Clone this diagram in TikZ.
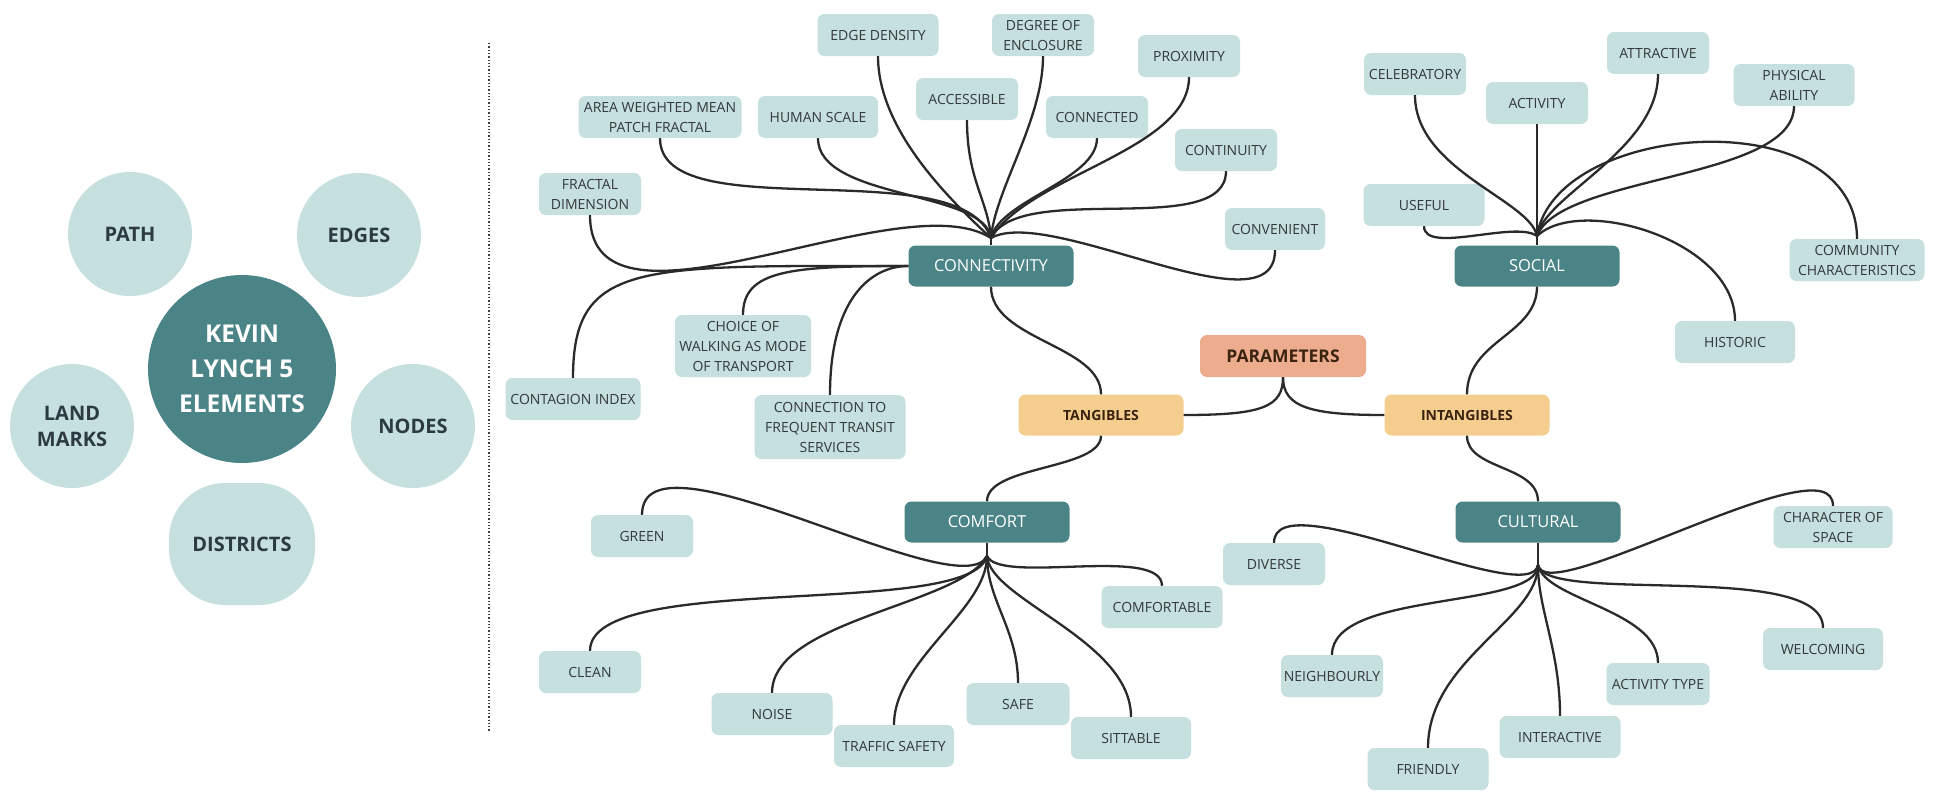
\documentclass[tikz,border=0pt]{standalone}
\usepackage{fontspec}
\setmainfont{Open Sans}
\definecolor{lteal}{HTML}{C6DFDF}
\definecolor{dteal}{HTML}{4A8487}
\definecolor{salmon}{HTML}{EEAC8F}
\definecolor{tanc}{HTML}{F4CD8F}
\definecolor{ltext}{HTML}{33393D}
\definecolor{ctext}{HTML}{2C3A42}
\definecolor{btext}{HTML}{3A2410}
\definecolor{linec}{HTML}{2A2A2A}
\tikzset{
  leaf/.style={fill=lteal, rounded corners=7pt, minimum width=#1, minimum height=42, inner sep=1pt, align=center, text=ltext, font=\fontsize{14}{20}\selectfont},
  leaf/.default=102,
  hubbox/.style={fill=dteal, rounded corners=7pt, minimum width=165, minimum height=41, inner sep=1pt, text=white, font=\fontsize{16.5}{20}\selectfont},
  catbox/.style={fill=tanc, rounded corners=7pt, minimum width=165, minimum height=41, inner sep=1pt, text=btext, font=\bfseries\fontsize{14}{16}\selectfont},
  parbox/.style={fill=salmon, rounded corners=7pt, minimum width=166, minimum height=42, inner sep=1pt, text=btext, font=\bfseries\fontsize{17.5}{20}\selectfont},
  elem/.style={circle, fill=lteal, minimum size=124, inner sep=0pt, align=center, text=ctext, font=\bfseries\fontsize{20}{26}\selectfont},
  link/.style={draw=linec, line width=2.3pt},
}
\begin{document}
\begin{tikzpicture}[x=1pt,y=-1pt]
\useasboundingbox (0,0) rectangle (1936,806);

% ---------- left: Kevin Lynch elements ----------
\node[elem] (path) at (130,234) {PATH};
\node[elem] (edges) at (359,235) {EDGES};
\node[elem] (land) at (72,426) {LAND\\MARKS};
\node[elem] (nodesc) at (413,426) {NODES};
\node[elem, circle=false, rectangle, rounded corners=56pt, minimum width=146, minimum height=122] (districts) at (242,544) {DISTRICTS};
\node[circle, fill=dteal, minimum size=188, inner sep=0pt, align=center, text=white, font=\bfseries\fontsize{24.5}{35}\selectfont] (kevin) at (242,369) {KEVIN\\LYNCH 5\\ELEMENTS};

% separator
\coordinate (septop) at (489,43);
\coordinate (sepbot) at (489,731);
\draw[dotted, line width=1.3pt, draw=black!75] (septop) -- (sepbot);

% ---------- central nodes ----------
\node[parbox] (parameters) at (1283,356) {PARAMETERS};
\node[catbox] (tangibles) at (1101,415) {TANGIBLES};
\node[catbox] (intangibles) at (1467,415) {INTANGIBLES};
\node[hubbox] (connectivity) at (991,266) {CONNECTIVITY};
\node[hubbox] (social) at (1537,266) {SOCIAL};
\node[hubbox] (comfort) at (987,522) {COMFORT};
\node[hubbox] (cultural) at (1538,522) {CULTURAL};

% ---------- connectivity leaves ----------
\node[leaf] (fractal) at (590,194) {FRACTAL\\DIMENSION};
\node[leaf=163] (area) at (660,117) {AREA WEIGHTED MEAN\\PATCH FRACTAL};
\node[leaf=120] (human) at (818,117) {HUMAN SCALE};
\node[leaf=121] (edge) at (878,35) {EDGE DENSITY};
\node[leaf] (access) at (967,99) {ACCESSIBLE};
\node[leaf] (degree) at (1043,35) {DEGREE OF\\ENCLOSURE};
\node[leaf] (connected) at (1097,117) {CONNECTED};
\node[leaf] (proximity) at (1189,56) {PROXIMITY};
\node[leaf] (continuity) at (1226,150) {CONTINUITY};
\node[leaf=100] (convenient) at (1275,229) {CONVENIENT};
\node[leaf=135] (contagion) at (573,399) {CONTAGION INDEX};
\node[leaf=136, minimum height=62] (choice) at (743,346) {CHOICE OF\\WALKING AS MODE\\OF TRANSPORT};
\node[leaf=151, minimum height=64] (transit) at (830,427) {CONNECTION TO\\FREQUENT TRANSIT\\SERVICES};

% ---------- social leaves ----------
\node[leaf] (celebratory) at (1415,74) {CELEBRATORY};
\node[leaf] (activity) at (1537,103) {ACTIVITY};
\node[leaf] (attractive) at (1658,53) {ATTRACTIVE};
\node[leaf=121] (physical) at (1794,85) {PHYSICAL\\ABILITY};
\node[leaf=121] (useful) at (1424,205) {USEFUL};
\node[leaf=135] (community) at (1857,260) {COMMUNITY\\CHARACTERISTICS};
\node[leaf=120] (historic) at (1735,342) {HISTORIC};

% ---------- comfort leaves ----------
\node[leaf] (green) at (642,536) {GREEN};
\node[leaf] (clean) at (590,672) {CLEAN};
\node[leaf=121] (noise) at (772,714) {NOISE};
\node[leaf=120] (traffic) at (894,746) {TRAFFIC SAFETY};
\node[leaf=103] (safe) at (1018,704) {SAFE};
\node[leaf=120] (sittable) at (1131,738) {SITTABLE};
\node[leaf=121] (comfortable) at (1162,607) {COMFORTABLE};

% ---------- cultural leaves ----------
\node[leaf] (diverse) at (1274,564) {DIVERSE};
\node[leaf] (neighbourly) at (1332,676) {NEIGHBOURLY};
\node[leaf=121] (friendly) at (1428,769) {FRIENDLY};
\node[leaf=121] (interactive) at (1560,737) {INTERACTIVE};
\node[leaf=103] (activitytype) at (1658,684) {ACTIVITY TYPE};
\node[leaf=120] (welcoming) at (1823,649) {WELCOMING};
\node[leaf=119] (character) at (1833,527) {CHARACTER OF\\SPACE};

% hubs
\coordinate (hc) at (991,238);
\coordinate (hs) at (1537,236);
\coordinate (hcm) at (987,556);
\coordinate (hcu) at (1538,565);

% ---------- central links ----------
\draw[link] (connectivity.south) .. controls (991,340) and (1101,345) .. (tangibles.north);
\draw[link] (tangibles.east) .. controls (1262,415) and (1283,407) .. (parameters.south);
\draw[link] (parameters.south) .. controls (1283,407) and (1310,415) .. (intangibles.west);
\draw[link] (intangibles.north) .. controls (1467,340) and (1537,335) .. (social.south);
\draw[link] (intangibles.south) .. controls (1467,470) and (1538,465) .. (cultural.north);
\draw[link] (tangibles.south) .. controls (1101,470) and (987,465) .. (comfort.north);

% ---------- connectivity links ----------
\draw[link] (hc) -- (connectivity.north);
\draw[link] (edge.south) .. controls (878,130) and (950,200) .. (hc);
\draw[link] (degree.south) .. controls (1043,120) and (995,190) .. (hc);
\draw[link] (proximity.south) .. controls (1189,150) and (1030,175) .. (hc);
\draw[link] (access.south) .. controls (967,180) and (988,200) .. (hc);
\draw[link] (connected.south) .. controls (1097,180) and (1000,200) .. (hc);
\draw[link] (human.south) .. controls (818,200) and (985,190) .. (hc);
\draw[link] (area.south) .. controls (660,230) and (960,150) .. (hc);
\draw[link] (fractal.south) .. controls (590,355) and (900,180) .. (hc);
\draw[link] (continuity.south) .. controls (1226,240) and (1020,180) .. (hc);
\draw[link] (convenient.south) .. controls (1275,335) and (1050,205) .. (hc);
\draw[link] (contagion.north) .. controls (573,260) and (640,266) .. (connectivity.west);
\draw[link] (choice.north) .. controls (743,270) and (790,266) .. (connectivity.west);
\draw[link] (transit.north) .. controls (830,300) and (870,266) .. (connectivity.west);

% ---------- social links ----------
\draw[link] (hs) -- (social.north);
\draw[link] (celebratory.south) .. controls (1415,170) and (1530,200) .. (hs);
\draw[link] (activity.south) -- (hs);
\draw[link] (attractive.south) .. controls (1658,150) and (1545,195) .. (hs);
\draw[link] (physical.south) .. controls (1794,180) and (1560,175) .. (hs);
\draw[link] (useful.south) .. controls (1424,255) and (1515,220) .. (hs);
\draw[link] (community.north) .. controls (1857,100) and (1555,120) .. (hs);
\draw[link] (historic.north) .. controls (1735,240) and (1580,195) .. (hs);

% ---------- comfort links ----------
\draw[link] (comfort.south) -- (hcm);
\draw[link] (green.north) .. controls (642,420) and (960,610) .. (hcm);
\draw[link] (clean.north) .. controls (590,570) and (970,620) .. (hcm);
\draw[link] (noise.north) .. controls (772,620) and (960,605) .. (hcm);
\draw[link] (traffic.north) .. controls (894,660) and (987,610) .. (hcm);
\draw[link] (safe.north) .. controls (1018,630) and (987,600) .. (hcm);
\draw[link] (sittable.north) .. controls (1131,640) and (990,600) .. (hcm);
\draw[link] (comfortable.north) .. controls (1162,545) and (1000,585) .. (hcm);

% ---------- cultural links ----------
\draw[link] (cultural.south) -- (hcu);
\draw[link] (diverse.north) .. controls (1274,480) and (1530,610) .. (hcu);
\draw[link] (character.north) .. controls (1833,440) and (1545,610) .. (hcu);
\draw[link] (neighbourly.north) .. controls (1332,590) and (1538,610) .. (hcu);
\draw[link] (friendly.north) .. controls (1428,660) and (1538,620) .. (hcu);
\draw[link] (interactive.north) .. controls (1560,650) and (1538,610) .. (hcu);
\draw[link] (activitytype.north) .. controls (1658,610) and (1545,600) .. (hcu);
\draw[link] (welcoming.north) .. controls (1823,560) and (1545,605) .. (hcu);
\end{tikzpicture}
\end{document}
